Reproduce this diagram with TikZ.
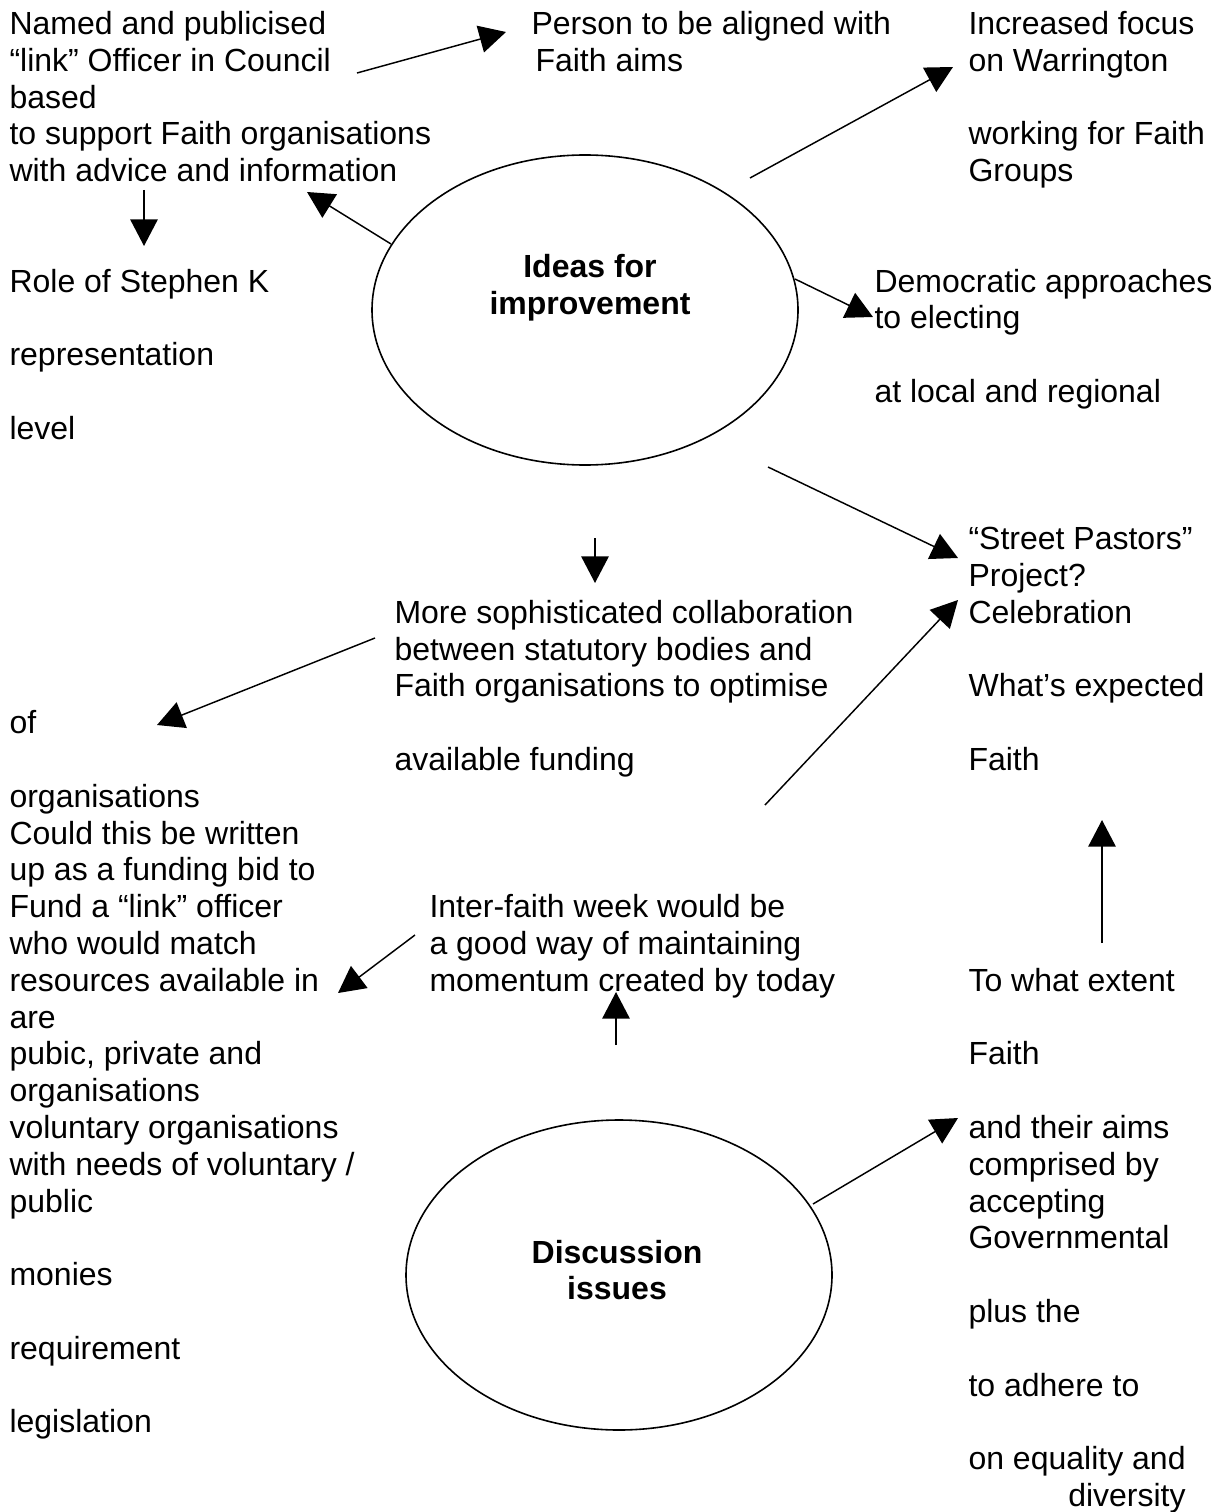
\documentclass[tikz,border=0pt]{standalone}
\usepackage{fontspec}
\setmainfont{Liberation Sans}
\usetikzlibrary{arrows.meta,shapes.geometric}
\begin{document}
\begin{tikzpicture}[x=0.375pt,y=-0.375pt,
  txt/.style={anchor=base west, inner sep=0pt, font=\fontsize{12pt}{13.8pt}\selectfont},
  ctxt/.style={anchor=base, inner sep=0pt, font=\fontsize{12pt}{13.8pt}\selectfont\bfseries},
  arr/.style={-{Triangle[length=10pt,width=10.3pt]}, line width=0.55pt},
  bubble/.style={ellipse, draw, line width=0.6pt, inner sep=0pt, minimum width=159.75pt, minimum height=116.25pt}]
\useasboundingbox (0,0) rectangle (1223,1512);
% ellipses
\node[bubble] (idea) at (585,310) {};
\node[bubble] (disc) at (619,1275) {};
\node[ctxt] (ideatxt) at (590,278) {\begin{tabular}[t]{@{}c@{}}Ideas for\\improvement\end{tabular}};
\node[ctxt] (disctxt) at (617,1263) {\begin{tabular}[t]{@{}c@{}}Discussion\\issues\end{tabular}};
% left column
\node[txt] (named) at (9,34.5) {\begin{tabular}[t]{@{}l@{}}Named and publicised\\“link” Officer in Council\\based\\to support Faith organisations\\with advice and information\end{tabular}};
\node[txt] (role) at (9,292.1) {\begin{tabular}[t]{@{}l@{}}Role of Stephen K\\ \\representation\\ \\level\end{tabular}};
\node[txt] (of) at (9,733.7) {\begin{tabular}[t]{@{}l@{}}of\\ \\organisations\end{tabular}};
\node[txt] (could) at (9,844.1) {\begin{tabular}[t]{@{}l@{}}Could this be written\\up as a funding bid to\\Fund a “link” officer\\who would match\\resources available in\\are\\pubic, private and\\organisations\\voluntary organisations\\with needs of voluntary /\\public\\ \\monies\\ \\requirement\\ \\legislation\end{tabular}};
% top middle
\node[txt] (person) at (531,34.5) {\begin{tabular}[t]{@{}l@{}}Person to be aligned with\\\hspace*{1.5pt}Faith aims\end{tabular}};
% right column
\node[txt] (focus) at (968,34.5) {\begin{tabular}[t]{@{}l@{}}Increased focus\\on Warrington\\ \\working for Faith\\Groups\end{tabular}};
\node[txt] (demo) at (874,292.1) {\begin{tabular}[t]{@{}l@{}}Democratic approaches\\to electing\\ \\at local and regional\end{tabular}};
\node[txt] (street) at (968,549.7) {\begin{tabular}[t]{@{}l@{}}“Street Pastors”\\Project?\\Celebration\\ \\What’s expected\\ \\Faith\end{tabular}};
\node[txt] (extent) at (968,991.3) {\begin{tabular}[t]{@{}l@{}}To what extent\\ \\Faith\\ \\and their aims\\comprised by\\accepting\\Governmental\\ \\plus the\\ \\to adhere to\\ \\on equality and\\\hfill diversity\end{tabular}};
% middle
\node[txt] (collab) at (394,623.3) {\begin{tabular}[t]{@{}l@{}}More sophisticated collaboration\\between statutory bodies and\\Faith organisations to optimise\\ \\available funding\end{tabular}};
\node[txt] (inter) at (429,917.7) {\begin{tabular}[t]{@{}l@{}}Inter-faith week would be\\a good way of maintaining\\momentum created by today\end{tabular}};
% connector end points
\coordinate (a1s) at (357,73);   \coordinate (a1e) at (506,32);
\coordinate (a2s) at (144,190);  \coordinate (a2e) at (144,246);
\coordinate (a3s) at (391,244);  \coordinate (a3e) at (307,192);
\coordinate (a4s) at (750,178);  \coordinate (a4e) at (953,67);
\coordinate (a5s) at (795,279);  \coordinate (a5e) at (873,317);
\coordinate (a6s) at (768,467);  \coordinate (a6e) at (958,558);
\coordinate (a7s) at (595,538);  \coordinate (a7e) at (595,583);
\coordinate (a8s) at (375,638);  \coordinate (a8e) at (157,725);
\coordinate (a9s) at (765,805);  \coordinate (a9e) at (958,600);
\coordinate (a10s) at (1102,943); \coordinate (a10e) at (1102,820);
\coordinate (a11s) at (415,935); \coordinate (a11e) at (338,993);
\coordinate (a12s) at (616,1045); \coordinate (a12e) at (616,992);
\coordinate (a13s) at (813,1204); \coordinate (a13e) at (958,1118);
\draw[arr] (a1s) -- (a1e);
\draw[arr] (a2s) -- (a2e);
\draw[arr] (a3s) -- (a3e);
\draw[arr] (a4s) -- (a4e);
\draw[arr] (a5s) -- (a5e);
\draw[arr] (a6s) -- (a6e);
\draw[arr] (a7s) -- (a7e);
\draw[arr] (a8s) -- (a8e);
\draw[arr] (a9s) -- (a9e);
\draw[arr] (a10s) -- (a10e);
\draw[arr] (a11s) -- (a11e);
\draw[arr] (a12s) -- (a12e);
\draw[arr] (a13s) -- (a13e);
\end{tikzpicture}
\end{document}
